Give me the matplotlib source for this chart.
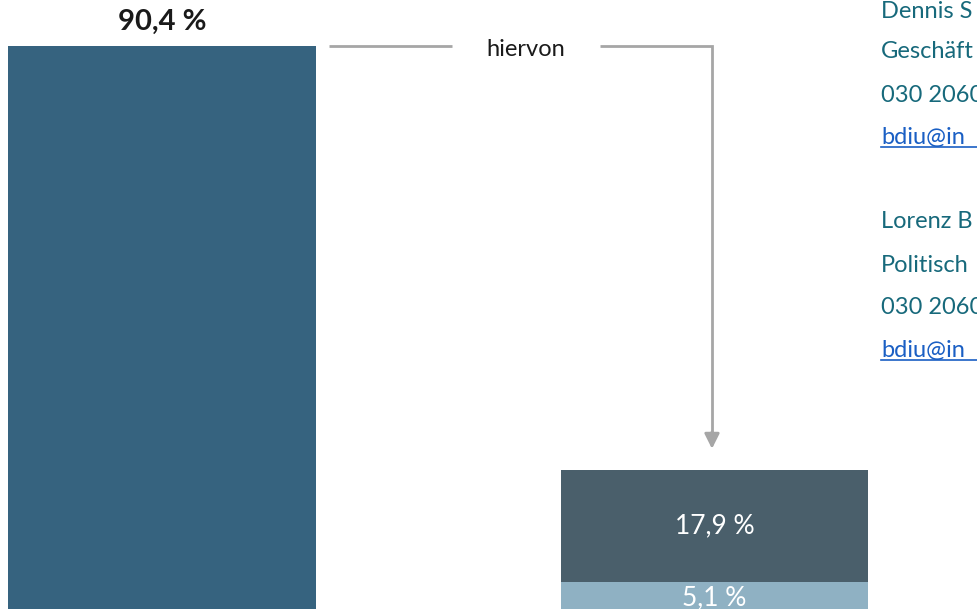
import matplotlib
matplotlib.use("Agg")
import matplotlib.pyplot as plt
from matplotlib.lines import Line2D

plt.rcParams['font.family'] = ['Lato', 'DejaVu Sans']

# Data
total_label = "90,4 %"
total_value = 90.4
sub_values = [5.1, 17.9]          # stacked bottom -> top
sub_labels = ["5,1 %", "17,9 %"]
connector_label = "hiervon"
contact_lines = ["Dennis S", "Geschäft", "030 2060", "bdiu@in",
                 "", "Lorenz B", "Politisch", "030 2060", "bdiu@in"]

c_total = "#36637f"
c_sub = ["#8fb1c3", "#4a5f6b"]
c_line = "#a6a6a6"
c_text = "#17697b"
c_link = "#1a5fc4"

W, H = 978, 609
fig = plt.figure(figsize=(W / 100, H / 100), dpi=100)
ax = fig.add_axes([0, 0, 1, 1])
ax.set_xlim(-0.2932, 1.477)
ax.set_ylim(0.796, 97.73)
ax.axis('off')

bw = 0.557
ax.bar(0, total_value, width=bw, color=c_total, linewidth=0)
ax.text(0, total_value + 3.8, total_label, ha='center', va='center',
        fontsize=21, fontweight='bold', color='#1a1a1a')

bottom = 0
for v, lab, c in zip(sub_values, sub_labels, c_sub):
    ax.bar(1, v, width=bw, bottom=bottom, color=c, linewidth=0)
    ax.text(1, bottom + v / 2, lab, ha='center', va='center',
            fontsize=19, color='white')
    bottom += v
stack_top = bottom

# connector
ly = total_value
ax.plot([0.302, 0.525], [ly, ly], color=c_line, lw=2, solid_capstyle='butt')
ax.text(0.659, ly - 0.5, connector_label, ha='center', va='center',
        fontsize=17, color='#1a1a1a')
ax.plot([0.793, 0.9955, 0.9955], [ly, ly, stack_top + 5.5], color=c_line, lw=2,
        solid_joinstyle='miter', solid_capstyle='butt')
ax.annotate('', xy=(0.9955, stack_top + 3.3), xytext=(0.9955, stack_top + 6.0),
            arrowprops=dict(arrowstyle='-|>,head_length=0.9,head_width=0.45',
                            color=c_line, lw=2, shrinkA=0, shrinkB=0))

# contact text block (cropped at the right edge)
x0 = 881 / W
ys = [12, 52, 95, 137, None, 222, 265, 307, 350]
for t, yp in zip(contact_lines, ys):
    if yp is None:
        continue
    link = t.startswith('bdiu')
    fig.text(x0, 1 - yp / H, t, ha='left', va='center', fontsize=17,
             color=c_link if link else c_text)
    if link:
        uy = 1 - (yp + 10) / H
        fig.add_artist(Line2D([x0, 1.0], [uy, uy], color=c_link, lw=1.2,
                              transform=fig.transFigure))

fig.savefig('out.png', dpi=100)
